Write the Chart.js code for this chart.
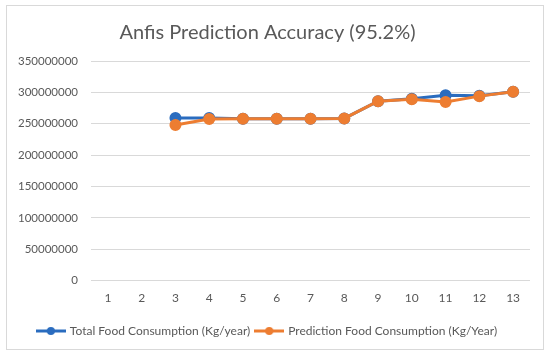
<!DOCTYPE html>
<html>
<head>
<meta charset="utf-8">
<script src="https://cdn.jsdelivr.net/npm/chart.js@4/dist/chart.umd.min.js"></script>
<style>
  html, body { margin: 0; padding: 0; background: #fff; }
  #wrap { width: 550px; height: 356px; position: relative; }
</style>
</head>
<body>
<div id="wrap"><canvas id="chart" width="550" height="356"></canvas></div>
<script>
// Data
const categories = ['1', '2', '3', '4', '5', '6', '7', '8', '9', '10', '11', '12', '13'];
const totalConsumption = [null, null, 259000000, 259000000, 258000000, 258000000, 258000000, 258500000, 286000000, 290000000, 295500000, 294500000, 301000000];
const predictedConsumption = [null, null, 248000000, 257500000, 258000000, 258000000, 258000000, 258500000, 286000000, 289000000, 284500000, 294000000, 301000000];

const textGrey = '#595959';
const gridGrey = '#d9d9d9';
const blue = '#2a6cbf';
const orange = '#ed7d31';

// legend marker: short line with a dot in the middle
function legendMarker(color) {
    const c = document.createElement('canvas');
    c.width = 30; c.height = 10;
    const g = c.getContext('2d');
    g.strokeStyle = color;
    g.lineWidth = 3;
    g.beginPath(); g.moveTo(0, 5); g.lineTo(30, 5); g.stroke();
    g.fillStyle = color;
    g.beginPath(); g.arc(15, 5, 4, 0, Math.PI * 2); g.fill();
    return c;
}

// outer frame like the office chart area
const framePlugin = {
    id: 'frame',
    beforeDraw(chart) {
        const ctx = chart.ctx;
        ctx.save();
        ctx.fillStyle = '#fff';
        ctx.fillRect(0, 0, chart.width, chart.height);
        ctx.strokeStyle = gridGrey;
        ctx.lineWidth = 1;
        ctx.strokeRect(6.5, 5.5, 537, 344);
        ctx.restore();
    }
};

new Chart(document.getElementById('chart').getContext('2d'), {
    type: 'line',
    data: {
        labels: categories,
        datasets: [{
            label: 'Total Food Consumption (Kg/year)',
            data: totalConsumption,
            borderColor: blue,
            backgroundColor: blue,
            borderWidth: 3,
            pointRadius: 4.5,
            fill: false,
            order: 2
        }, {
            label: 'Prediction Food Consumption (Kg/Year)',
            data: predictedConsumption,
            borderColor: orange,
            backgroundColor: orange,
            borderWidth: 3,
            pointRadius: 4.5,
            fill: false,
            order: 1
        }]
    },
    options: {
        responsive: false,
        animation: false,
        layout: { padding: { left: 5, right: 20, top: 17, bottom: 9 } },
        plugins: {
            title: {
                display: true,
                text: 'Anfis Prediction Accuracy (95.2%)',
                color: textGrey,
                font: { family: 'Lato', size: 20, weight: 'normal' },
                padding: { top: 4, bottom: 16 }
            },
            legend: {
                position: 'bottom',
                labels: {
                    color: textGrey,
                    font: { family: 'Lato', size: 12 },
                    usePointStyle: true,
                    pointStyleWidth: 26,
                    padding: 6,
                    generateLabels(chart) {
                        return chart.data.datasets.map((ds, i) => ({
                            text: ds.label,
                            fontColor: textGrey,
                            pointStyle: legendMarker(ds.borderColor),
                            datasetIndex: i,
                            hidden: false,
                            lineWidth: 0
                        }));
                    }
                }
            },
            tooltip: { enabled: false }
        },
        scales: {
            y: {
                min: 0,
                max: 350000000,
                ticks: {
                    stepSize: 50000000,
                    color: textGrey,
                    font: { family: 'Lato', size: 11.5 },
                    padding: 13,
                    callback: v => String(v)
                },
                grid: { color: gridGrey, drawTicks: false },
                border: { display: false }
            },
            x: {
                offset: true,
                ticks: {
                    color: textGrey,
                    font: { family: 'Lato', size: 12 },
                    padding: 2
                },
                grid: { display: false },
                border: { display: false },
                // room between category labels and legend
                afterFit: scale => { scale.height += 12; }
            }
        }
    },
    plugins: [framePlugin]
});
</script>
</body>
</html>
